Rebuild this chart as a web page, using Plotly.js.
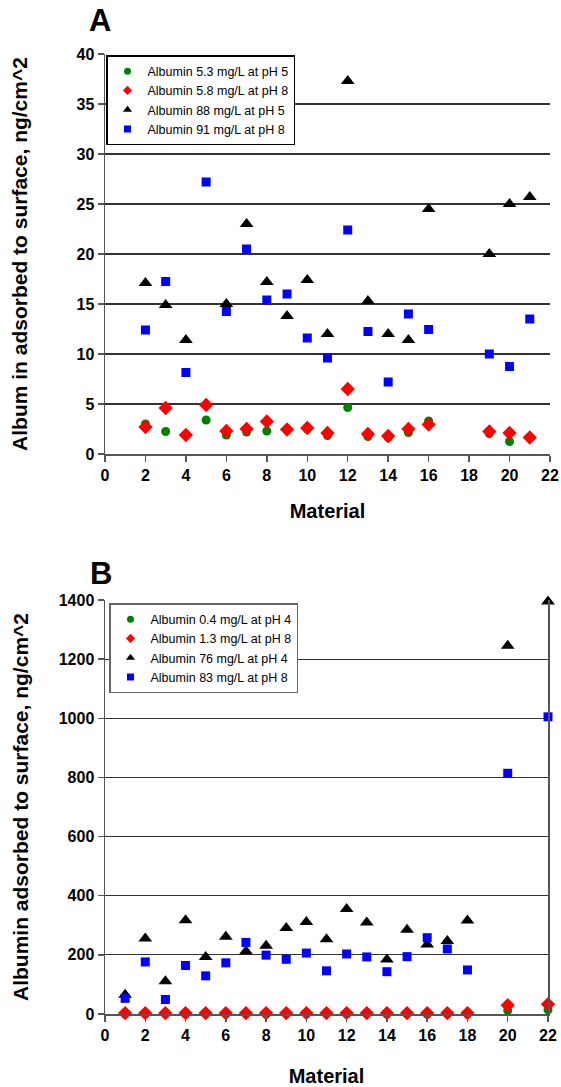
<!DOCTYPE html>
<html>
<head>
<meta charset="utf-8">
<script src="https://cdn.plot.ly/plotly-3.0.1.min.js"></script>
<style>html,body{margin:0;padding:0;background:#fff;}#chart{width:561px;height:1087px;}</style>
</head>
<body>
<div id="chart"></div>
<script>
// ---- Panel A data ----
const aNames = ["Albumin 5.3 mg/L at pH 5", "Albumin 5.8 mg/L at pH 8", "Albumin 88 mg/L at pH 5", "Albumin 91 mg/L at pH 8"];
const aMaterial = [2, 3, 4, 5, 6, 7, 8, 9, 10, 11, 12, 13, 14, 15, 16, 19, 20, 21];
const aGreen = [3.0, 2.25, 1.9, 3.4, 1.9, 2.2, 2.3, 2.4, 2.5, 1.85, 4.65, 1.75, 1.65, 2.15, 3.3, 2.05, 1.25, 1.6];
const aRed = [2.7, 4.6, 1.9, 4.9, 2.3, 2.5, 3.25, 2.45, 2.6, 2.1, 6.5, 2.0, 1.8, 2.5, 2.95, 2.25, 2.1, 1.65];
const aBlackMaterial = [2, 3, 4, 6, 7, 8, 9, 10, 11, 12, 13, 14, 15, 16, 19, 20, 21];
const aBlack = [17.1, 14.9, 11.4, 15.0, 23.0, 17.2, 13.8, 17.4, 12.0, 37.3, 15.3, 12.0, 11.4, 24.5, 20.0, 25.0, 25.7];
const aBlue = [12.4, 17.25, 8.15, 27.2, 14.25, 20.5, 15.4, 16.0, 11.6, 9.6, 22.4, 12.25, 7.2, 14.0, 12.45, 10.0, 8.75, 13.5];

// ---- Panel B data ----
const bNames = ["Albumin 0.4 mg/L at pH 4", "Albumin 1.3 mg/L at pH 8", "Albumin 76 mg/L at pH 4", "Albumin 83 mg/L at pH 8"];
const bMaterial = [1, 2, 3, 4, 5, 6, 7, 8, 9, 10, 11, 12, 13, 14, 15, 16, 17, 18, 20, 22];
const bGreen = [1, 1, 1, 1, 1, 1, 1, 1, 1, 1, 1, 1, 1, 1, 1, 1, 1, 1, 12, 14];
const bRed = [3, 3, 3, 3, 3, 3, 3, 3, 3, 3, 3, 3, 3, 3, 3, 3, 3, 3, 30, 33];
const bBlack = [65, 255, 111, 317, 193, 261, 212, 231, 291, 311, 253, 355, 309, 184, 285, 235, 247, 316, 1245, 1395];
const bBlue = [53, 176, 49, 164, 129, 173, 242, 199, 185, 206, 146, 203, 193, 143, 194, 258, 220, 149, 814, 1005];

const colors = ["#008000", "#ff0000", "#000000", "#0000ff"];
const symbols = ["circle", "diamond", "triangle-up", "square"];
const sizes = [9, 11, 12, 9];
const legendSizes = [7, 7, 8, 7];

const FONT = "Liberation Sans, Arial, Helvetica, sans-serif";

function mk(x, y, i, names, xa, ya) {
  return {
    type: "scatter", mode: "markers", x: x, y: y, name: names[i],
    xaxis: xa, yaxis: ya, showlegend: false, cliponaxis: false,
    marker: {color: colors[i], symbol: symbols[i], size: sizes[i], line: {width: 0}}
  };
}
// legend-only entries (smaller symbols, like the original legend)
function lg(i, names, xa, ya, leg) {
  return {
    type: "scatter", mode: "markers", x: [null], y: [null], name: names[i],
    xaxis: xa, yaxis: ya, legend: leg, legendgroup: leg + i, showlegend: true,
    marker: {color: colors[i], symbol: symbols[i], size: legendSizes[i], line: {width: 0}}
  };
}

const traces = [
  mk(aMaterial, aGreen, 0, aNames, "x", "y"),
  mk(aMaterial, aRed, 1, aNames, "x", "y"),
  mk(aBlackMaterial, aBlack, 2, aNames, "x", "y"),
  mk(aMaterial, aBlue, 3, aNames, "x", "y"),
  mk(bMaterial, bGreen, 0, bNames, "x2", "y2"),
  mk(bMaterial, bRed, 1, bNames, "x2", "y2"),
  mk(bMaterial, bBlack, 2, bNames, "x2", "y2"),
  mk(bMaterial, bBlue, 3, bNames, "x2", "y2")
];
for (let i = 0; i < 4; i++) traces.push(lg(i, aNames, "x", "y", "legend"));
for (let i = 0; i < 4; i++) traces.push(lg(i, bNames, "x2", "y2", "legend2"));

const W = 561, H = 1087;
const tickFont = {family: FONT, size: 16, color: "#000", weight: "bold"};
const titleFont = {family: FONT, size: 21, color: "#000", weight: "bold"};

function xax(domain, anchor, standoff) {
  return {
    domain: domain, anchor: anchor, range: [0, 22], dtick: 2, tick0: 0,
    showgrid: false, zeroline: false, showline: true, linecolor: "#555", linewidth: 1.5,
    ticks: "outside", ticklen: 6, tickcolor: "#555", tickwidth: 1.5,
    tickfont: tickFont,
    title: {text: "Material", font: {family: FONT, size: 20, color: "#000", weight: "bold"}, standoff: standoff}
  };
}
function yax(domain, anchor, range, dtick, title, mirror, standoff) {
  return {
    domain: domain, anchor: anchor, range: range, dtick: dtick, tick0: 0,
    showgrid: true, gridcolor: "#333", gridwidth: 1.2,
    zeroline: false, showline: true, linecolor: "#555", linewidth: 1.5, mirror: mirror,
    ticks: "outside", ticklen: 6, tickcolor: "#555", tickwidth: 1.5,
    tickfont: tickFont,
    title: {text: title, font: titleFont, standoff: standoff}
  };
}

const layout = {
  width: W, height: H,
  margin: {l: 0, r: 0, t: 0, b: 0},
  paper_bgcolor: "#fff", plot_bgcolor: "#fff",
  font: {family: FONT, color: "#000"},
  showlegend: true,
  xaxis: xax([105 / W, 550 / W], "y", 21),
  yaxis: yax([1 - 454 / H, 1 - 54 / H], "x", [0, 40], 5, "Album in adsorbed to surface, ng/cm^2", false, 43),
  xaxis2: xax([105 / W, 548 / W], "y2", 27),
  yaxis2: yax([1 - 1014 / H, 1 - 600 / H], "x2", [0, 1400], 200, "Albumin adsorbed to surface, ng/cm^2", true, 24),
  legend: {
    x: 106 / W, y: 1 - 55 / H, xanchor: "left", yanchor: "top",
    bgcolor: "#fff", bordercolor: "#000", borderwidth: 1.5,
    font: {family: FONT, size: 12.5, color: "#000"}, tracegroupgap: 0, traceorder: "grouped"
  },
  legend2: {
    x: 109 / W, y: 1 - 603 / H, xanchor: "left", yanchor: "top",
    bgcolor: "#fff", bordercolor: "#666", borderwidth: 1.5,
    font: {family: FONT, size: 12.5, color: "#000"}, tracegroupgap: 0, traceorder: "grouped"
  },
  annotations: [
    {text: "A", x: 100 / W, y: 1 - 21 / H, xref: "paper", yref: "paper", showarrow: false,
     font: {family: FONT, size: 31, color: "#000", weight: "bold"}, xanchor: "center", yanchor: "middle"},
    {text: "B", x: 101 / W, y: 1 - 573 / H, xref: "paper", yref: "paper", showarrow: false,
     font: {family: FONT, size: 31, color: "#000", weight: "bold"}, xanchor: "center", yanchor: "middle"}
  ]
};

Plotly.newPlot("chart", traces, layout, {displayModeBar: false, staticPlot: true});
</script>
</body>
</html>
